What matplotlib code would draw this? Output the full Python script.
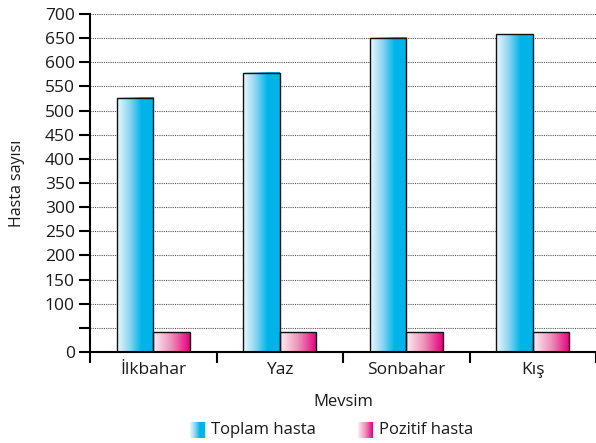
import numpy as np
import matplotlib
matplotlib.use("Agg")
import matplotlib.pyplot as plt
from matplotlib.colors import LinearSegmentedColormap

plt.rcParams['font.family'] = ['Open Sans', 'DejaVu Sans']

mevsimler = ['İlkbahar', 'Yaz', 'Sonbahar', 'Kış']
toplam = [527, 578, 651, 658]
pozitif = [41, 41, 41, 41]
seriler = ['Toplam hasta', 'Pozitif hasta']
y_ticks = list(range(0, 701, 50))
y_labels = ['' if t == 50 else str(t) for t in y_ticks]

mavi = LinearSegmentedColormap.from_list('mavi', ['#eaf8fe', '#8fd6f3', '#00b4ea', '#00b4ea'])
pembe = LinearSegmentedColormap.from_list('pembe', ['#fdeef4', '#ef8fb9', '#e6007e'])
grad = np.linspace(0, 1, 64).reshape(1, -1)

fig = plt.figure(figsize=(5.96, 4.43), dpi=100)
ax = fig.add_axes([90 / 596, 1 - 352 / 443, 1 - 90 / 596, 338 / 443])

w = 0.29
x = np.arange(len(mevsimler)) + 0.5
for xi, t, p in zip(x, toplam, pozitif):
    ax.imshow(grad, cmap=mavi, extent=(xi - w, xi, 0, t), aspect='auto', zorder=2)
    ax.imshow(grad, cmap=pembe, extent=(xi, xi + w, 0, p), aspect='auto', zorder=2)
ax.bar(x - w / 2, toplam, w, facecolor='none', edgecolor='#111111', linewidth=1.0, zorder=3)
ax.bar(x + w / 2, pozitif, w, facecolor='none', edgecolor='#111111', linewidth=1.0, zorder=3)

ax.set_xlim(0, 4)
ax.set_ylim(0, 700)
ax.set_yticks(y_ticks)
ax.set_yticklabels(y_labels, fontsize=12.5, color='#1a1a1a')
ax.set_xticks(range(0, 5))
ax.set_xticklabels([])
ax.set_xticks(x, minor=True)
ax.set_xticklabels(mevsimler, minor=True, fontsize=12.5, color='#1a1a1a')
ax.tick_params(axis='x', which='minor', length=0, pad=7)
ax.tick_params(axis='x', which='major', length=8, width=1.5, direction='out')
ax.tick_params(axis='y', length=8, width=1.5, direction='out', pad=3)
for s in ['top', 'right']:
    ax.spines[s].set_visible(False)
ax.spines['left'].set_linewidth(1.5)
ax.spines['bottom'].set_linewidth(1.5)
ax.spines['left'].set_zorder(4)
ax.grid(axis='y', linestyle=(0, (1, 1)), color='#555555', linewidth=0.8, zorder=1)
ax.set_axisbelow(True)
ax.set_xlabel('Mevsim', fontsize=12, labelpad=12, color='#1a1a1a')
ax.set_ylabel('Hasta sayısı', fontsize=11.5, labelpad=14, color='#1a1a1a')

# legend
for x0, cm, lab in [(190, mavi, seriler[0]), (358, pembe, seriler[1])]:
    lax = fig.add_axes([x0 / 596, 1 - 438 / 443, 15 / 596, 16 / 443])
    lax.imshow(grad, cmap=cm, aspect='auto')
    lax.axis('off')
    fig.text((x0 + 21) / 596, 1 - 430 / 443, lab, fontsize=12, va='center', ha='left', color='#1a1a1a')

fig.savefig('out.png', dpi=100)
